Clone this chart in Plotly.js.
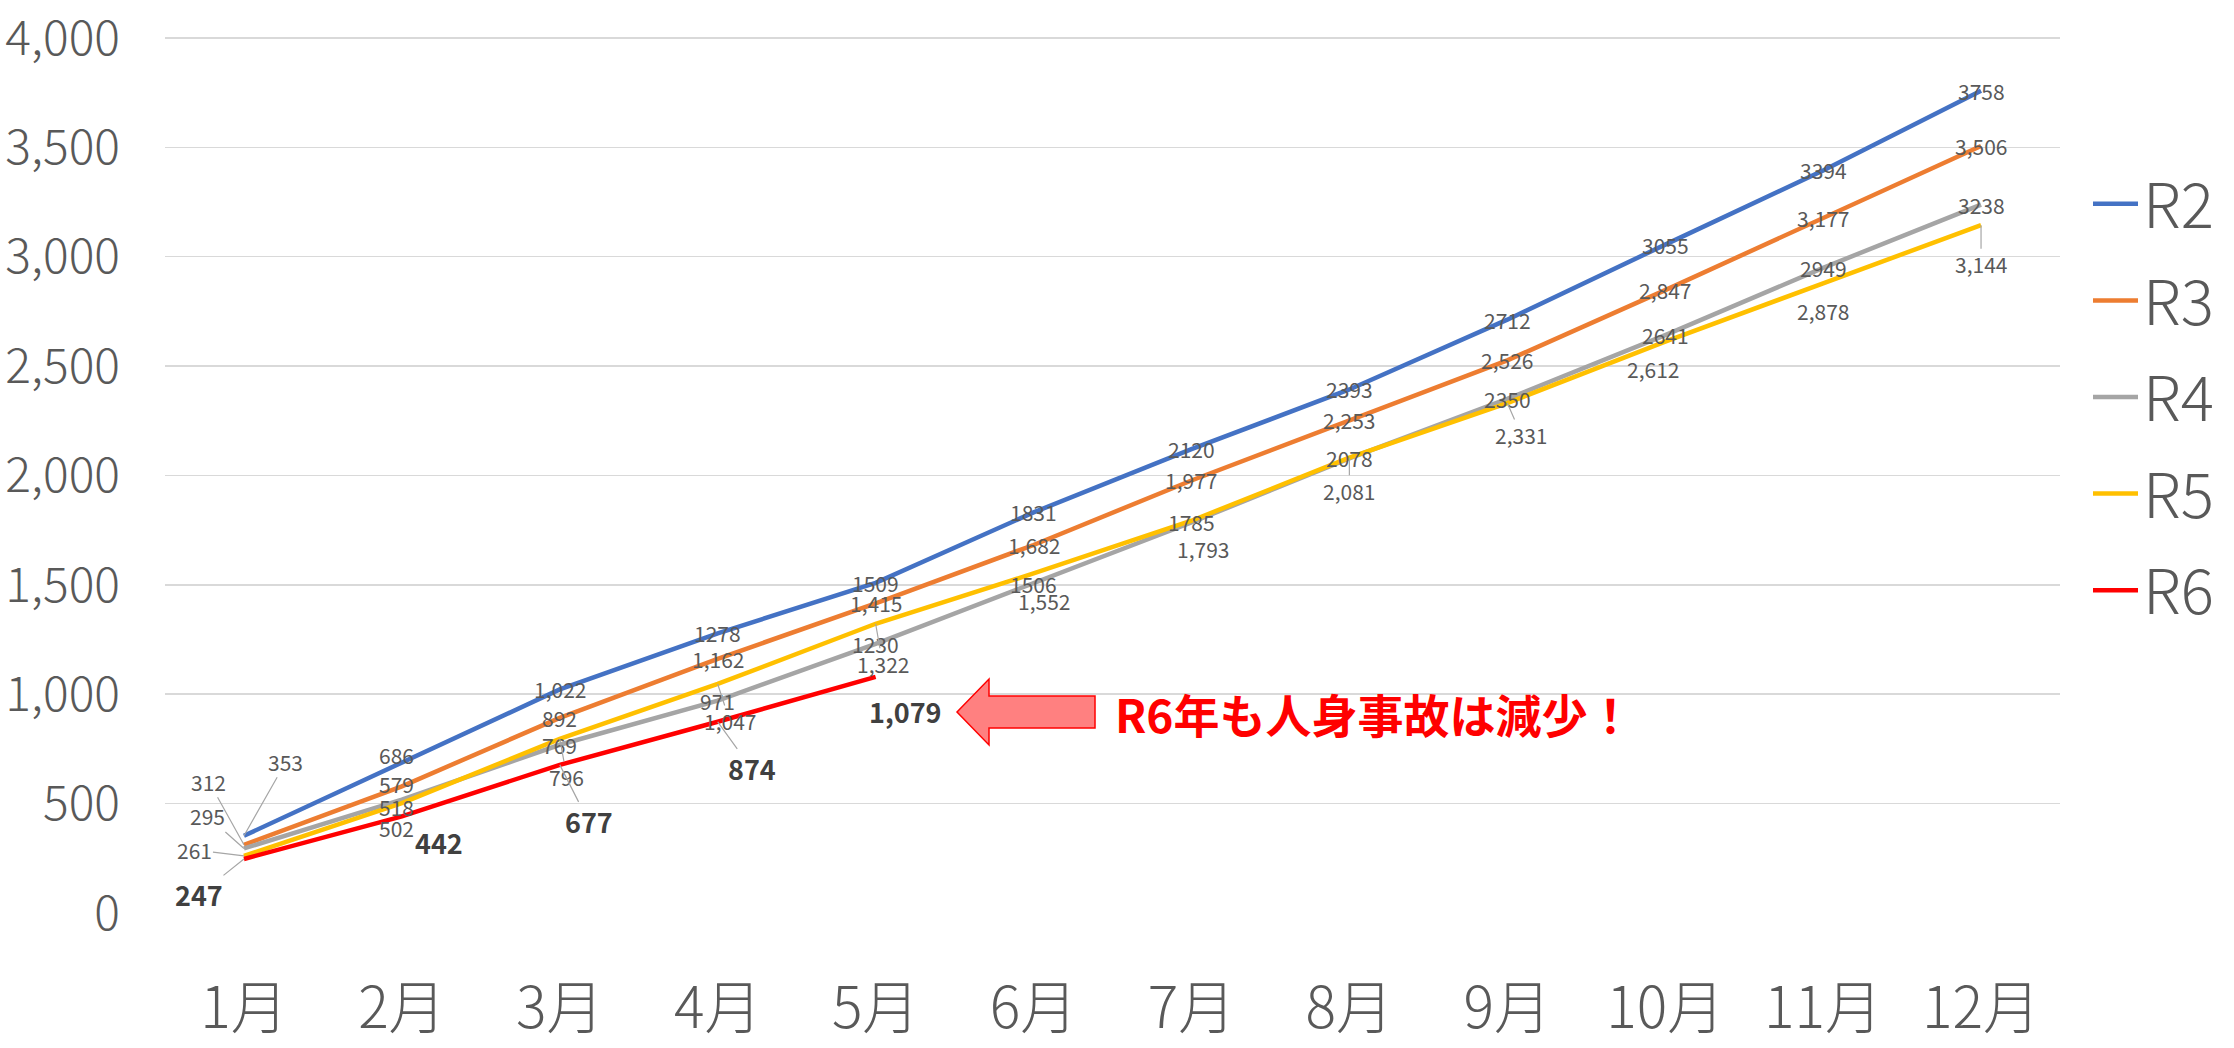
<!DOCTYPE html>
<html>
<head>
<meta charset="utf-8">
<script src="https://cdn.plot.ly/plotly-3.0.1.min.js"></script>
<style>
html,body{margin:0;padding:0;background:#fff;}
#chart{width:2234px;height:1048px;}
</style>
</head>
<body>
<div id="chart"></div>
<script>
// ---- data ----
const months = ['1月','2月','3月','4月','5月','6月','7月','8月','9月','10月','11月','12月'];
const R2 = [353, 686, 1022, 1278, 1509, 1831, 2120, 2393, 2712, 3055, 3394, 3758];
const R3 = [312, 579, 892, 1162, 1415, 1682, 1977, 2253, 2526, 2847, 3177, 3506];
const R4 = [295, 518, 769, 971, 1230, 1506, 1785, 2078, 2350, 2641, 2949, 3238];
const R5 = [261, 502, 796, 1047, 1322, 1552, 1793, 2081, 2331, 2612, 2878, 3144];
const R6 = [247, 442, 677, 874, 1079];
const seriesNames = ['R2', 'R3', 'R4', 'R5', 'R6'];
const yTickVals = [0, 500, 1000, 1500, 2000, 2500, 3000, 3500, 4000];
const calloutText = 'R6年も人身事故は減少！';

// ---- styles ----
const FONT = '"Noto Sans CJK JP", "Noto Sans", sans-serif';
const colors = {R2:'#4472C4', R3:'#ED7D31', R4:'#A5A5A5', R5:'#FFC000', R6:'#FF0000'};
const seriesData = {R2, R3, R4, R5, R6};
// label format: comma separators or not (Excel label formats as shown)
const labelComma = {R2:false, R3:true, R4:false, R5:true, R6:true};
const labelCommaOverride = {R2:{2:true}};
const labelBold = {R6:true};
// label offsets [dx, dy(down), leaderLine]
const labelOffsets = {
  R2: {0:[42,-74,1], 1:[-5,-8,0]},
  R3: {0:[-35,-63,1], 1:[-5,-2,0]},
  R4: {0:[-36,-32,1], 1:[-5,7,0]},
  R5: {0:[-49,-6,1], 1:[-5,25,0], 2:[7,38,1], 3:[12,37,1], 4:[7,40,1], 5:[10,28,0],
       6:[12,28,0], 7:[0,33,1], 8:[14,32,1], 9:[-12,27,0], 10:[0,28,0], 11:[0,39,1]},
  R6: {0:[-45,36,1], 1:[37,26,0], 2:[29,57,1], 3:[34,47,1], 4:[30,35,0]}
};

const fmt = (v, comma) => comma ? v.toLocaleString('en-US') : String(v);

const traces = seriesNames.map(name => ({
  type: 'scatter',
  mode: 'lines',
  name: name,
  legendgroup: name,
  x: months.slice(0, seriesData[name].length),
  y: seriesData[name],
  line: {color: colors[name], width: 4.5},
  hoverinfo: 'skip'
}));

const annotations = [];
seriesNames.forEach(name => {
  const vals = seriesData[name];
  vals.forEach((v, i) => {
    let comma = labelComma[name];
    if (labelCommaOverride[name] && labelCommaOverride[name][i] !== undefined) comma = labelCommaOverride[name][i];
    const off = (labelOffsets[name] && labelOffsets[name][i]) || [0, 0, 0];
    const bold = !!labelBold[name];
    const font = bold ? {family: FONT, size: 27, color: '#404040', weight: 'bold'}
                      : {family: FONT, size: 21, color: '#595959'};
    const text = bold ? '<b>' + fmt(v, comma) + '</b>' : fmt(v, comma);
    if (off[2]) {
      annotations.push({x: months[i], y: v, xref: 'x', yref: 'y', text: text,
        showarrow: true, arrowhead: 0, arrowwidth: 1.2, arrowcolor: '#A6A6A6',
        ax: off[0], ay: off[1], standoff: 0, font: font, borderpad: 0});
    } else {
      annotations.push({x: months[i], y: v, xref: 'x', yref: 'y', text: text,
        showarrow: false, xshift: off[0], yshift: -off[1], font: font, borderpad: 0});
    }
  });
});

// geometry of plot area in pixels (for callout placement)
const W = 2234, H = 1048;
const YMAX = 4100;            // axis top kept slightly above the 4,000 gridline
const M = {l: 165, r: 174, t: 16, b: 135};
const PW = W - M.l - M.r, PH = H - M.t - M.b;
const px = x => (x - M.l) / PW;
const py = y => (H - M.b - y) / PH;

// callout block arrow (decoration)
const arrowPts = [[957,712],[989,679],[989,696],[1095,696],[1095,728],[989,728],[989,745]];
const arrowPath = 'M ' + arrowPts.map(p => px(p[0]).toFixed(5) + ',' + py(p[1]).toFixed(5)).join(' L ') + ' Z';

annotations.push({
  xref: 'paper', yref: 'paper', x: px(1113), y: py(713), xanchor: 'left', yanchor: 'middle',
  text: '<b>' + calloutText + '</b>', showarrow: false,
  font: {family: FONT, size: 46, color: '#FF0000'}
});

const layout = {
  width: W, height: H,
  margin: M,
  paper_bgcolor: '#ffffff', plot_bgcolor: '#ffffff',
  font: {family: FONT, color: '#595959'},
  showlegend: true,
  legend: {
    x: px(2088), xanchor: 'left', y: py(157), yanchor: 'top',
    font: {family: FONT, size: 62, color: '#595959', weight: 300},
    traceorder: 'grouped', tracegroupgap: 13, itemwidth: 45,
    bgcolor: 'rgba(0,0,0,0)'
  },
  xaxis: {
    type: 'category', range: [-0.5, 11.5], showgrid: false, zeroline: false, showline: false,
    ticks: '', tickfont: {family: FONT, size: 57, color: '#595959', weight: 300},
    ticklabelstandoff: 57, fixedrange: true
  },
  yaxis: {
    range: [0, YMAX], tickmode: 'array', tickvals: yTickVals, tickformat: ',d',
    showgrid: true, gridcolor: '#D9D9D9', gridwidth: 1.5, zeroline: false, showline: false,
    ticks: '', tickfont: {family: FONT, size: 48, color: '#595959', weight: 300},
    ticklabelstandoff: 44, ticklabeloverflow: 'allow', fixedrange: true
  },
  shapes: [{
    type: 'path', xref: 'paper', yref: 'paper', path: arrowPath,
    fillcolor: '#FF8080', line: {color: '#FF0000', width: 1.5}, layer: 'above'
  }],
  annotations: annotations,
  hovermode: false
};

Plotly.newPlot('chart', traces, layout, {displayModeBar: false, staticPlot: true});
</script>
</body>
</html>
